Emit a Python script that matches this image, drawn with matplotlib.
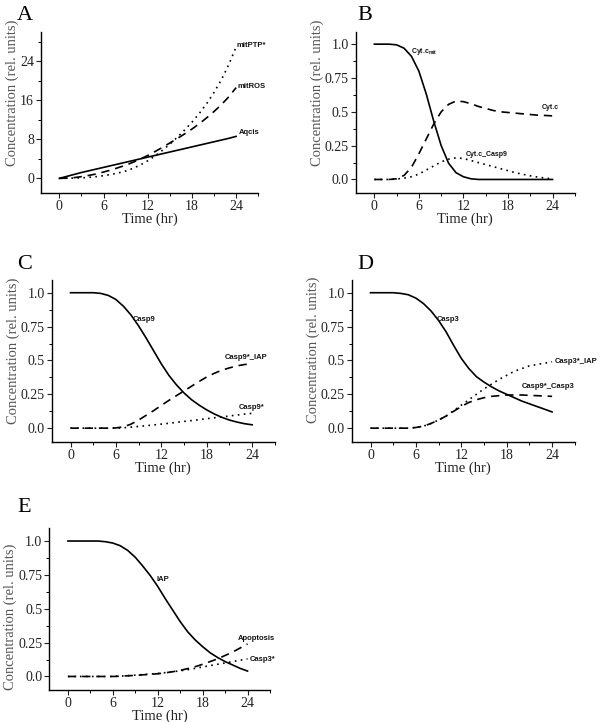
import numpy as np
import matplotlib
matplotlib.use("Agg")
import matplotlib.pyplot as plt
from matplotlib.ticker import FixedLocator

hours = list(range(25))

# Panel A
aqcis = [0, 0.4, 0.8, 1.2, 1.55, 1.9, 2.25, 2.6, 2.95, 3.3, 3.65, 4.0, 4.35, 4.7, 5.05,
         5.4, 5.75, 6.1, 6.45, 6.8, 7.15, 7.5, 7.85, 8.2, 8.6]
mitros = [0, 0.05, 0.15, 0.35, 0.6, 0.9, 1.3, 1.7, 2.2, 2.7, 3.3, 3.95, 4.7, 5.5, 6.35,
          7.25, 8.15, 9.1, 10.1, 11.2, 12.4, 13.7, 15.1, 16.7, 18.6]
mitptp = [0, 0.02, 0.05, 0.1, 0.2, 0.35, 0.55, 0.8, 1.1, 1.5, 2.05, 2.75, 3.6, 4.6, 5.75,
          7.0, 8.4, 9.9, 11.5, 13.3, 15.3, 17.6, 20.2, 23.3, 26.9]

# Panel B
cytc_mit = [1.0, 1.0, 1.0, 0.995, 0.97, 0.91, 0.8, 0.63, 0.43, 0.25, 0.12, 0.05, 0.02,
            0.005, 0, 0, 0, 0, 0, 0, 0, 0, 0, 0, 0]
cytc = [0, 0, 0, 0.005, 0.03, 0.09, 0.19, 0.3, 0.41, 0.5, 0.555, 0.58, 0.575, 0.56, 0.54,
        0.525, 0.51, 0.5, 0.495, 0.49, 0.485, 0.48, 0.475, 0.473, 0.47]
cytc_casp9 = [0, 0, 0, 0.003, 0.01, 0.02, 0.04, 0.07, 0.1, 0.13, 0.15, 0.16, 0.155, 0.14,
              0.125, 0.11, 0.095, 0.08, 0.065, 0.05, 0.038, 0.027, 0.018, 0.01, 0.005]

# Panel C
casp9 = [1.0, 1.0, 1.0, 1.0, 0.995, 0.98, 0.95, 0.9, 0.835, 0.755, 0.665, 0.57, 0.475,
         0.39, 0.32, 0.26, 0.21, 0.17, 0.135, 0.105, 0.08, 0.06, 0.045, 0.033, 0.025]
casp9s_iap = [0, 0, 0, 0, 0, 0, 0.002, 0.01, 0.03, 0.06, 0.095, 0.13, 0.168, 0.205, 0.24,
              0.275, 0.31, 0.345, 0.378, 0.405, 0.428, 0.445, 0.46, 0.47, 0.475]
casp9s = [0, 0, 0, 0, 0, 0, 0, 0.003, 0.008, 0.013, 0.018, 0.024, 0.03, 0.036, 0.043,
          0.05, 0.056, 0.063, 0.07, 0.077, 0.083, 0.09, 0.097, 0.104, 0.11]

# Panel D
casp3 = [1.0, 1.0, 1.0, 1.0, 0.995, 0.985, 0.96, 0.92, 0.865, 0.795, 0.71, 0.61, 0.515,
         0.44, 0.38, 0.34, 0.305, 0.275, 0.25, 0.225, 0.2, 0.18, 0.16, 0.14, 0.12]
casp3s_iap = [0, 0, 0, 0, 0, 0, 0.005, 0.015, 0.035, 0.06, 0.09, 0.13, 0.17, 0.21, 0.25,
              0.29, 0.325, 0.36, 0.39, 0.42, 0.44, 0.46, 0.47, 0.48, 0.49]
casp9s_casp3 = [0, 0, 0, 0, 0, 0, 0.005, 0.015, 0.035, 0.06, 0.09, 0.125, 0.16, 0.19,
                0.21, 0.225, 0.235, 0.24, 0.245, 0.245, 0.245, 0.242, 0.24, 0.237, 0.235]

# Panel E
iap = [1.0, 1.0, 1.0, 1.0, 1.0, 0.995, 0.985, 0.965, 0.93, 0.88, 0.815, 0.745, 0.665,
       0.575, 0.49, 0.405, 0.33, 0.27, 0.22, 0.175, 0.14, 0.11, 0.085, 0.06, 0.04]
apoptosis = [0, 0, 0, 0, 0, 0, 0, 0.002, 0.005, 0.008, 0.012, 0.016, 0.02, 0.027, 0.035,
             0.045, 0.058, 0.072, 0.09, 0.11, 0.13, 0.155, 0.18, 0.21, 0.24]
casp3s = [0, 0, 0, 0, 0, 0, 0, 0.003, 0.006, 0.01, 0.014, 0.018, 0.022, 0.028, 0.035,
          0.042, 0.05, 0.06, 0.07, 0.08, 0.09, 0.1, 0.11, 0.12, 0.13]

x_ticks = [0, 6, 12, 18, 24]
yticks_A = [0, 8, 16, 24]
yticks_01 = [0.0, 0.25, 0.5, 0.75, 1.0]
ylabels_01 = ["0.0", "0.25", "0.5", "0.75", "1.0"]

SERIF = "Liberation Serif"
SANS = "Liberation Sans"

fig = plt.figure(figsize=(6.0, 7.22), dpi=100)

DASH = (0, (5, 3.5))
DOT = (0, (1, 2.6))


def setup(ax, yt, ylab, ylim, yminor, ylab_pos):
    ax.set_xlim(-2.5, 27)
    ax.set_ylim(*ylim)
    ax.spines["top"].set_visible(False)
    ax.spines["right"].set_visible(False)
    for s in ("left", "bottom"):
        ax.spines[s].set_linewidth(1.0)
    ax.set_xticks(x_ticks)
    ax.set_xticklabels([str(v) for v in x_ticks])
    ax.xaxis.set_minor_locator(FixedLocator([3, 9, 15, 21, 27]))
    ax.set_yticks(yt)
    ax.set_yticklabels(ylab)
    ax.yaxis.set_minor_locator(FixedLocator(yminor))
    ax.tick_params(which="major", direction="out", length=3.5, width=0.8, pad=1.5,
                   labelsize=10, colors="#222222")
    ax.tick_params(which="minor", direction="out", length=2, width=0.7)
    for lab in ax.get_xticklabels() + ax.get_yticklabels():
        lab.set_fontfamily(SERIF)
    ax.set_xlabel("Time (hr)", fontfamily=SERIF, fontsize=10.5, labelpad=0, color="#222222")
    ax.set_ylabel("Concentration (rel. units)", fontfamily=SERIF, fontsize=10.5,
                  labelpad=0.5, color="#555555")
    ax.yaxis.set_label_coords(ax.yaxis.label.get_position()[0], ylab_pos)
    ax.yaxis.label.set_transform(ax.yaxis.label.get_transform())


def fix_ylabel(ax, ypos):
    # keep automatic x offset, move label vertically
    lbl = ax.yaxis.label
    ax.yaxis.set_label_position("left")
    lbl.set_y(ypos)


def lab(ax, x, y, s, size=5.5):
    ax.text(x, y, s, fontfamily=SANS, fontweight="bold", fontsize=size,
            ha="left", va="center", color="#111111")


def finish(ax, ypos):
    ax.set_ylabel("Concentration (rel. units)", fontfamily=SERIF, fontsize=10.5,
                  labelpad=0.5, color="#555555", y=ypos)


LW = 1.2

panels = []

# A
axA = fig.add_axes([0.0683, 0.7327, 0.362, 0.223])
axA.plot(hours, aqcis, color="black", lw=LW)
axA.plot(hours, mitros, color="black", lw=LW, linestyle=DASH)
axA.plot(hours, mitptp, color="black", lw=LW, linestyle=DOT)
lab(axA, 24.1, 27.2, "mitPTP*")
lab(axA, 24.2, 18.8, "mitROS")
lab(axA, 24.4, 9.3, "Aqcis")
panels.append((axA, yticks_A, [str(v) for v in yticks_A], (-3, 30), [4, 12, 20, 28], 0.62))

# B
axB = fig.add_axes([0.593, 0.7327, 0.365, 0.223])
axB.plot(hours, cytc_mit, color="black", lw=LW)
axB.plot(hours, cytc, color="black", lw=LW, linestyle=DASH)
axB.plot(hours, cytc_casp9, color="black", lw=LW, linestyle=DOT)
lab(axB, 5.0, 0.945, r"Cyt.c$_{\mathregular{mit}}$", size=5)
lab(axB, 22.6, 0.535, "Cyt.c", size=5)
lab(axB, 12.3, 0.185, "Cyt.c_Casp9", size=5)
panels.append((axB, yticks_01, ylabels_01, (-0.1, 1.09), [0.125, 0.375, 0.625, 0.875], 0.62))

# C
axC = fig.add_axes([0.086, 0.3882, 0.372, 0.224])
axC.plot(hours, casp9, color="black", lw=LW)
axC.plot(hours, casp9s_iap, color="black", lw=LW, linestyle=DASH)
axC.plot(hours, casp9s, color="black", lw=LW, linestyle=DOT)
lab(axC, 8.2, 0.8, "Casp9")
lab(axC, 20.4, 0.525, "Casp9*_IAP")
lab(axC, 22.3, 0.15, "Casp9*")
panels.append((axC, yticks_01, ylabels_01, (-0.1, 1.094), [0.125, 0.375, 0.625, 0.875], 0.56))

# D
axD = fig.add_axes([0.586, 0.3882, 0.372, 0.224])
axD.plot(hours, casp3, color="black", lw=LW)
axD.plot(hours, casp3s_iap, color="black", lw=LW, linestyle=DOT)
axD.plot(hours, casp9s_casp3, color="black", lw=LW, linestyle=DASH)
lab(axD, 8.8, 0.8, "Casp3")
lab(axD, 24.3, 0.49, "Casp3*_IAP")
lab(axD, 20.0, 0.305, "Casp9*_Casp3")
panels.append((axD, yticks_01, ylabels_01, (-0.1, 1.094), [0.125, 0.375, 0.625, 0.875], 0.57))

# E
axE = fig.add_axes([0.082, 0.0443, 0.368, 0.224])
axE.plot(hours, iap, color="black", lw=LW)
axE.plot(hours, apoptosis, color="black", lw=LW, linestyle=DASH)
axE.plot(hours, casp3s, color="black", lw=LW, linestyle=DOT)
lab(axE, 11.9, 0.715, "IAP")
lab(axE, 22.7, 0.28, "Apoptosis")
lab(axE, 24.3, 0.125, "Casp3*")
panels.append((axE, yticks_01, ylabels_01, (-0.1, 1.094), [0.125, 0.375, 0.625, 0.875], 0.45))

for ax, yt, yl, ylim, ymin, ypos in panels:
    ax.set_xlim(-2.5, 27)
    ax.set_ylim(*ylim)
    ax.spines["top"].set_visible(False)
    ax.spines["right"].set_visible(False)
    for s in ("left", "bottom"):
        ax.spines[s].set_linewidth(1.0)
    ax.set_xticks(x_ticks)
    ax.set_xticklabels([str(v) for v in x_ticks])
    ax.xaxis.set_minor_locator(FixedLocator([3, 9, 15, 21, 27]))
    ax.set_yticks(yt)
    ax.set_yticklabels(yl)
    ax.yaxis.set_minor_locator(FixedLocator(ymin))
    ax.tick_params(which="major", direction="out", length=3.5, width=0.8, pad=1.5,
                   labelsize=10, colors="#222222")
    ax.tick_params(which="minor", direction="out", length=2, width=0.7)
    for t in ax.get_xticklabels() + ax.get_yticklabels():
        t.set_fontfamily(SERIF)
    ax.set_xlabel("Time (hr)", fontfamily=SERIF, fontsize=10.5, labelpad=0, color="#222222")
    finish(ax, ypos)

# Panel letters
for letter, (px, py) in {"A": (17, 16), "B": (357, 16), "C": (17, 265),
                         "D": (357, 265), "E": (17, 507)}.items():
    fig.text(px / 600, 1 - py / 722, letter, fontfamily=SERIF, fontsize=16,
             ha="left", va="center", color="black")

fig.savefig("out.png", dpi=100)
